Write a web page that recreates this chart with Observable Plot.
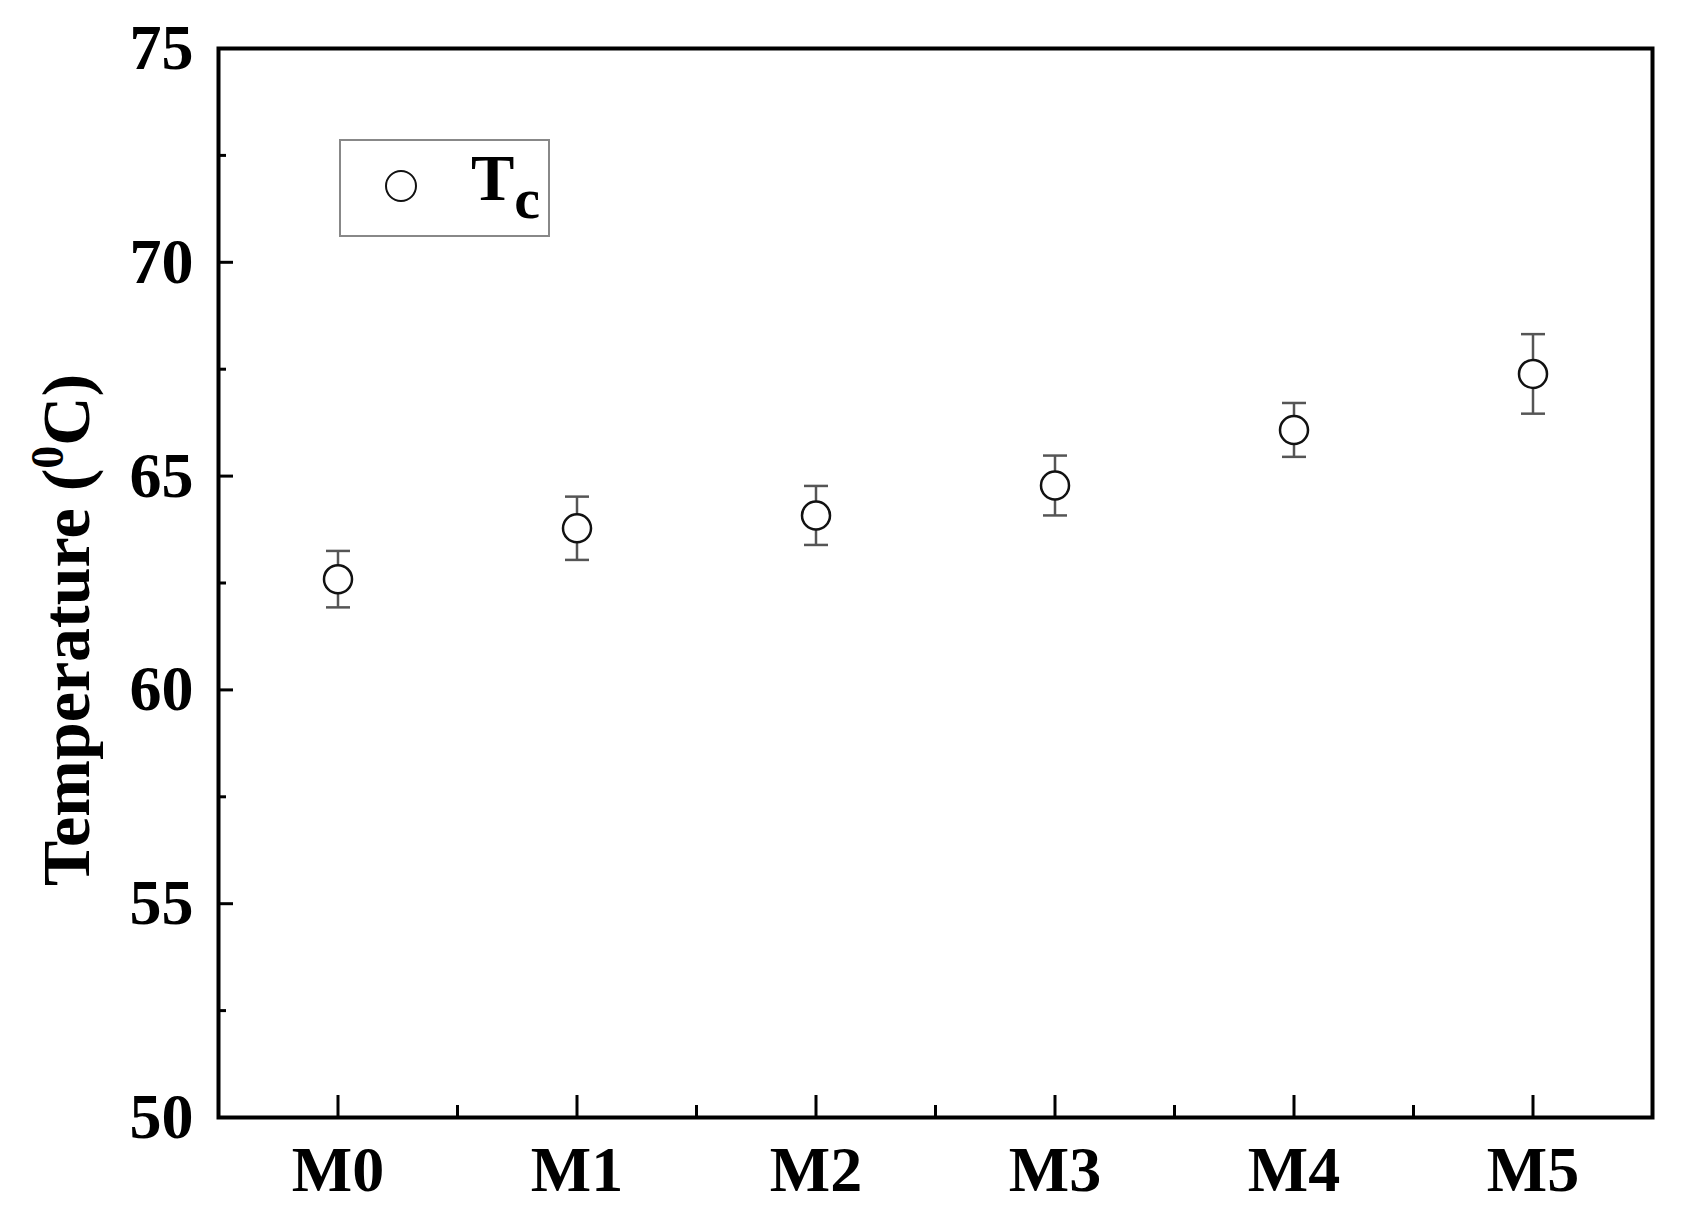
<!DOCTYPE html>
<html><head><meta charset="utf-8">
<script src="https://cdn.jsdelivr.net/npm/d3@7"></script>
<script src="https://cdn.jsdelivr.net/npm/@observablehq/plot@0.6"></script>
<style>
body{margin:0;background:#fff;}
#wrap{position:relative;width:1684px;height:1219px;font-family:"Liberation Serif","Times New Roman",serif;font-weight:bold;}
#legend{position:absolute;left:339px;top:139px;width:211px;height:98px;border:2px solid #888;background:#fff;box-sizing:border-box;}
#legend .sym{position:absolute;left:44px;top:29px;width:32px;height:32px;border:2px solid #111;border-radius:50%;box-sizing:border-box;}
#legend .lab{position:absolute;left:130px;top:5px;font-size:65px;line-height:1;color:#000;white-space:nowrap;}
#legend .lab sub{font-size:58px;vertical-align:-18px;line-height:1;}
</style></head><body><div id="wrap"></div><script>
const samples = ["M0","M1","M2","M3","M4","M5"];
const tc = [62.59, 63.78, 64.08, 64.78, 66.08, 67.39];
const tcErr = [0.66, 0.74, 0.69, 0.70, 0.63, 0.93];
const yTicks = [50,55,60,65,70,75];
const yMinor = [52.5,57.5,62.5,67.5,72.5];
const xMinor = [0.5,1.5,2.5,3.5,4.5];
const seriesName = "T";
const seriesSub = "c";

const data = samples.map((s,i)=>({i, s, t: tc[i], lo: tc[i]-tcErr[i], hi: tc[i]+tcErr[i]}));
const cap = {draw(ctx, size){const w=Math.sqrt(size/Math.PI); ctx.moveTo(-w,0); ctx.lineTo(w,0);}};

const chart = Plot.plot({
  width:1684, height:1219, marginLeft:218, marginRight:32, marginTop:48, marginBottom:102,
  style:{fontFamily:'"Liberation Serif", "Times New Roman", serif', fontWeight:"bold", fontSize:"64px", color:"#000", background:"#fff", overflow:"visible"},
  x:{domain:[-0.5,5.5], label:null},
  y:{domain:[50,75], label:null},
  marks:[
    Plot.axisX(d3.range(samples.length), {tickFormat: i=>samples[i], tickSize:-22, tickPadding:50, strokeWidth:3, label:null}),
    Plot.axisX(xMinor, {tickFormat: ()=>"", tickSize:-12, strokeWidth:3, label:null}),
    Plot.axisY(yTicks, {tickSize:-15, tickPadding:40, strokeWidth:3, label:"Temperature (0C)", labelAnchor:"center", labelOffset:178, labelArrow:"none"}),
    Plot.axisY(yMinor, {tickSize:-8, tickFormat:()=>"", strokeWidth:3, label:null}),
    Plot.ruleX(data,{x:"i", y1:"lo", y2:"hi", stroke:"#555", strokeWidth:2.5}),
    Plot.dot(data,{x:"i", y:"hi", symbol:cap, r:12, stroke:"#555", strokeWidth:2.5}),
    Plot.dot(data,{x:"i", y:"lo", symbol:cap, r:12, stroke:"#555", strokeWidth:2.5}),
    Plot.dot(data,{x:"i", y:"t", r:14, fill:"#fff", stroke:"#111", strokeWidth:2.5}),
    Plot.frame({stroke:"#000", strokeWidth:4})
  ]
});
document.getElementById("wrap").appendChild(chart);

// superscript in y label
chart.querySelectorAll("text").forEach(t=>{
  if (t.textContent === "Temperature (0C)") {
    t.textContent = "";
    t.setAttribute("font-size","68px");
    const ns = "http://www.w3.org/2000/svg";
    const a = document.createElementNS(ns,"tspan"); a.textContent = "Temperature ("; a.setAttribute("dx","-47");
    const b = document.createElementNS(ns,"tspan"); b.textContent = "0"; b.setAttribute("font-size","46px"); b.setAttribute("dy","-26");
    const c = document.createElementNS(ns,"tspan"); c.textContent = "C)"; c.setAttribute("dy","26");
    t.append(a,b,c);
  }
});

const lg = document.createElement("div");
lg.id = "legend";
lg.innerHTML = `<div class="sym"></div><div class="lab">${seriesName}<sub>${seriesSub}</sub></div>`;
document.getElementById("wrap").appendChild(lg);
</script></body></html>
